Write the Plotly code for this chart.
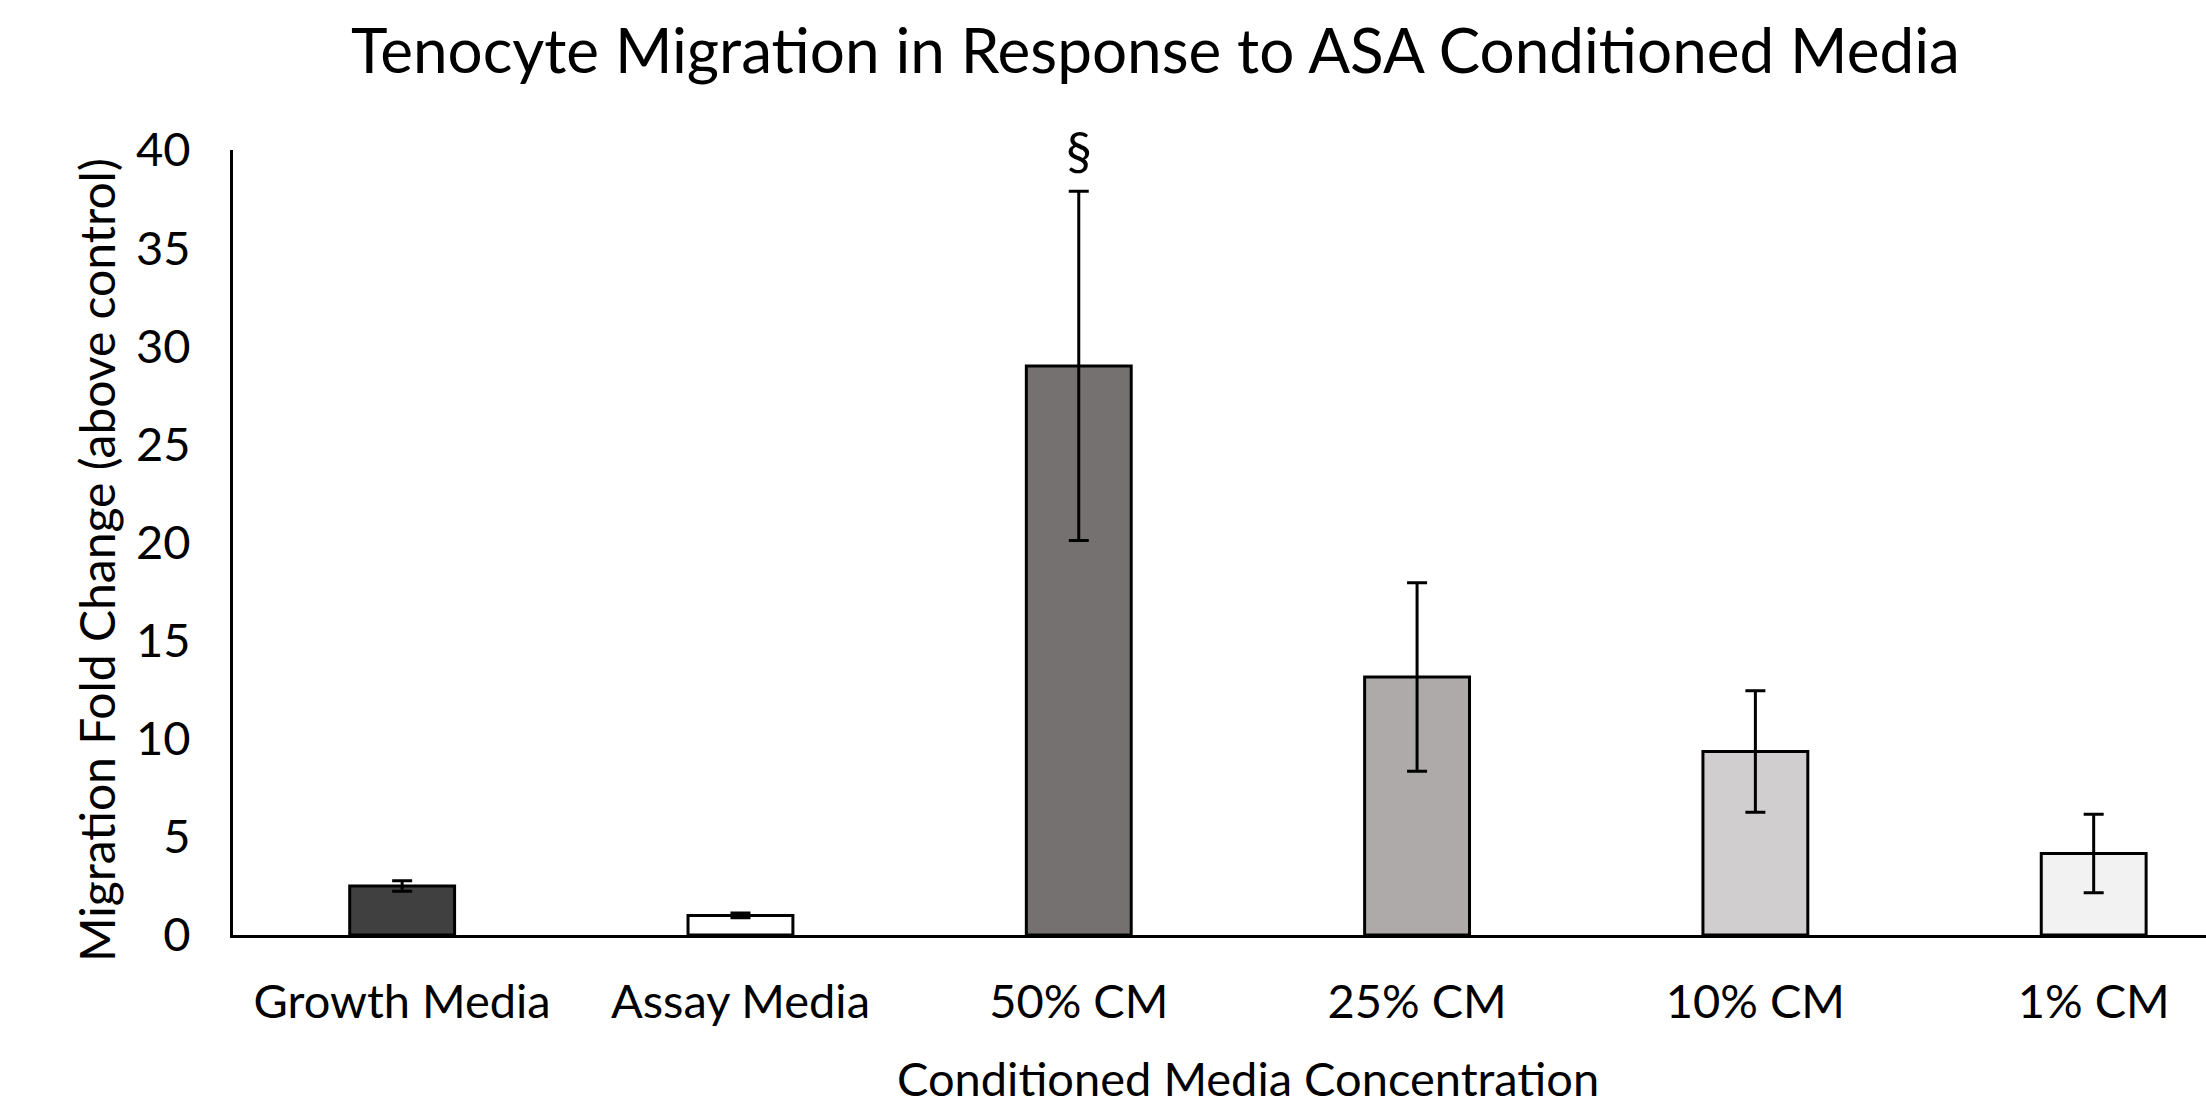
import plotly.graph_objects as go

categories = ["Growth Media", "Assay Media", "50% CM", "25% CM", "10% CM", "1% CM"]
values = [2.5, 1.0, 29.0, 13.15, 9.35, 4.15]
errors = [0.27, 0.12, 8.9, 4.8, 3.1, 2.0]
colors = ["#404040", "#FFFFFF", "#767171", "#AEAAAA", "#D0CECE", "#F2F2F2"]
yticks = [0, 5, 10, 15, 20, 25, 30, 35, 40]

FONT = "Lato"
W, H = 2206, 1108
L, T, B = 233, 150, 173
PW, PH = W - L, H - T - B

fig = go.Figure()
fig.add_trace(go.Bar(
    x=categories,
    y=values,
    width=0.31,
    marker=dict(color=colors, line=dict(color="black", width=3)),
    error_y=dict(type="data", array=errors, visible=True, color="black",
                 thickness=3, width=10),
    showlegend=False,
))

fig.add_annotation(x="50% CM", y=40, text="§", showarrow=False,
                   xref="x", yref="y", yanchor="middle",
                   font=dict(family=FONT, size=52, color="black"))

# axis titles (positioned as in the original, whose plot area extends past the right edge)
fig.add_annotation(text="Conditioned Media Concentration", showarrow=False,
                   xref="paper", yref="paper",
                   x=(1248 - L) / PW, y=-(1078 - (H - B)) / PH,
                   xanchor="center", yanchor="middle",
                   font=dict(family=FONT, size=47, color="black"))
fig.add_annotation(text="Migration Fold Change (above control)", showarrow=False,
                   xref="paper", yref="paper", textangle=-90,
                   x=(96 - L) / PW, y=((H - B) - 560) / PH,
                   xanchor="center", yanchor="middle",
                   font=dict(family=FONT, size=48, color="black"))

fig.update_layout(
    width=W, height=H,
    margin=dict(l=L, r=0, t=T, b=B, autoexpand=False),
    paper_bgcolor="white", plot_bgcolor="white",
    font=dict(family=FONT, color="black"),
    title=dict(text="Tenocyte Migration in Response to ASA Conditioned Media",
               x=1155.5 / W, xanchor="center", xref="container",
               y=1 - 51 / H, yanchor="middle", yref="container",
               font=dict(family=FONT, size=62, color="black")),
)
fig.update_xaxes(
    type="category",
    range=[-0.5, 5.332],
    showline=True, linecolor="black", linewidth=3,
    showgrid=False, zeroline=False, ticks="",
    tickfont=dict(family=FONT, size=47, color="black"),
    ticklabelstandoff=24,
)
fig.update_yaxes(
    range=[0, 40],
    tickvals=yticks,
    showline=True, linecolor="black", linewidth=3,
    showgrid=False, zeroline=False, ticks="",
    tickfont=dict(family=FONT, size=47, color="black"),
    ticklabelstandoff=30,
)

fig.write_html(
    "out.html",
    config={"displayModeBar": False},
    post_script="document.body.style.margin='0px';document.body.style.padding='0px';document.body.style.overflow='hidden';",
)
